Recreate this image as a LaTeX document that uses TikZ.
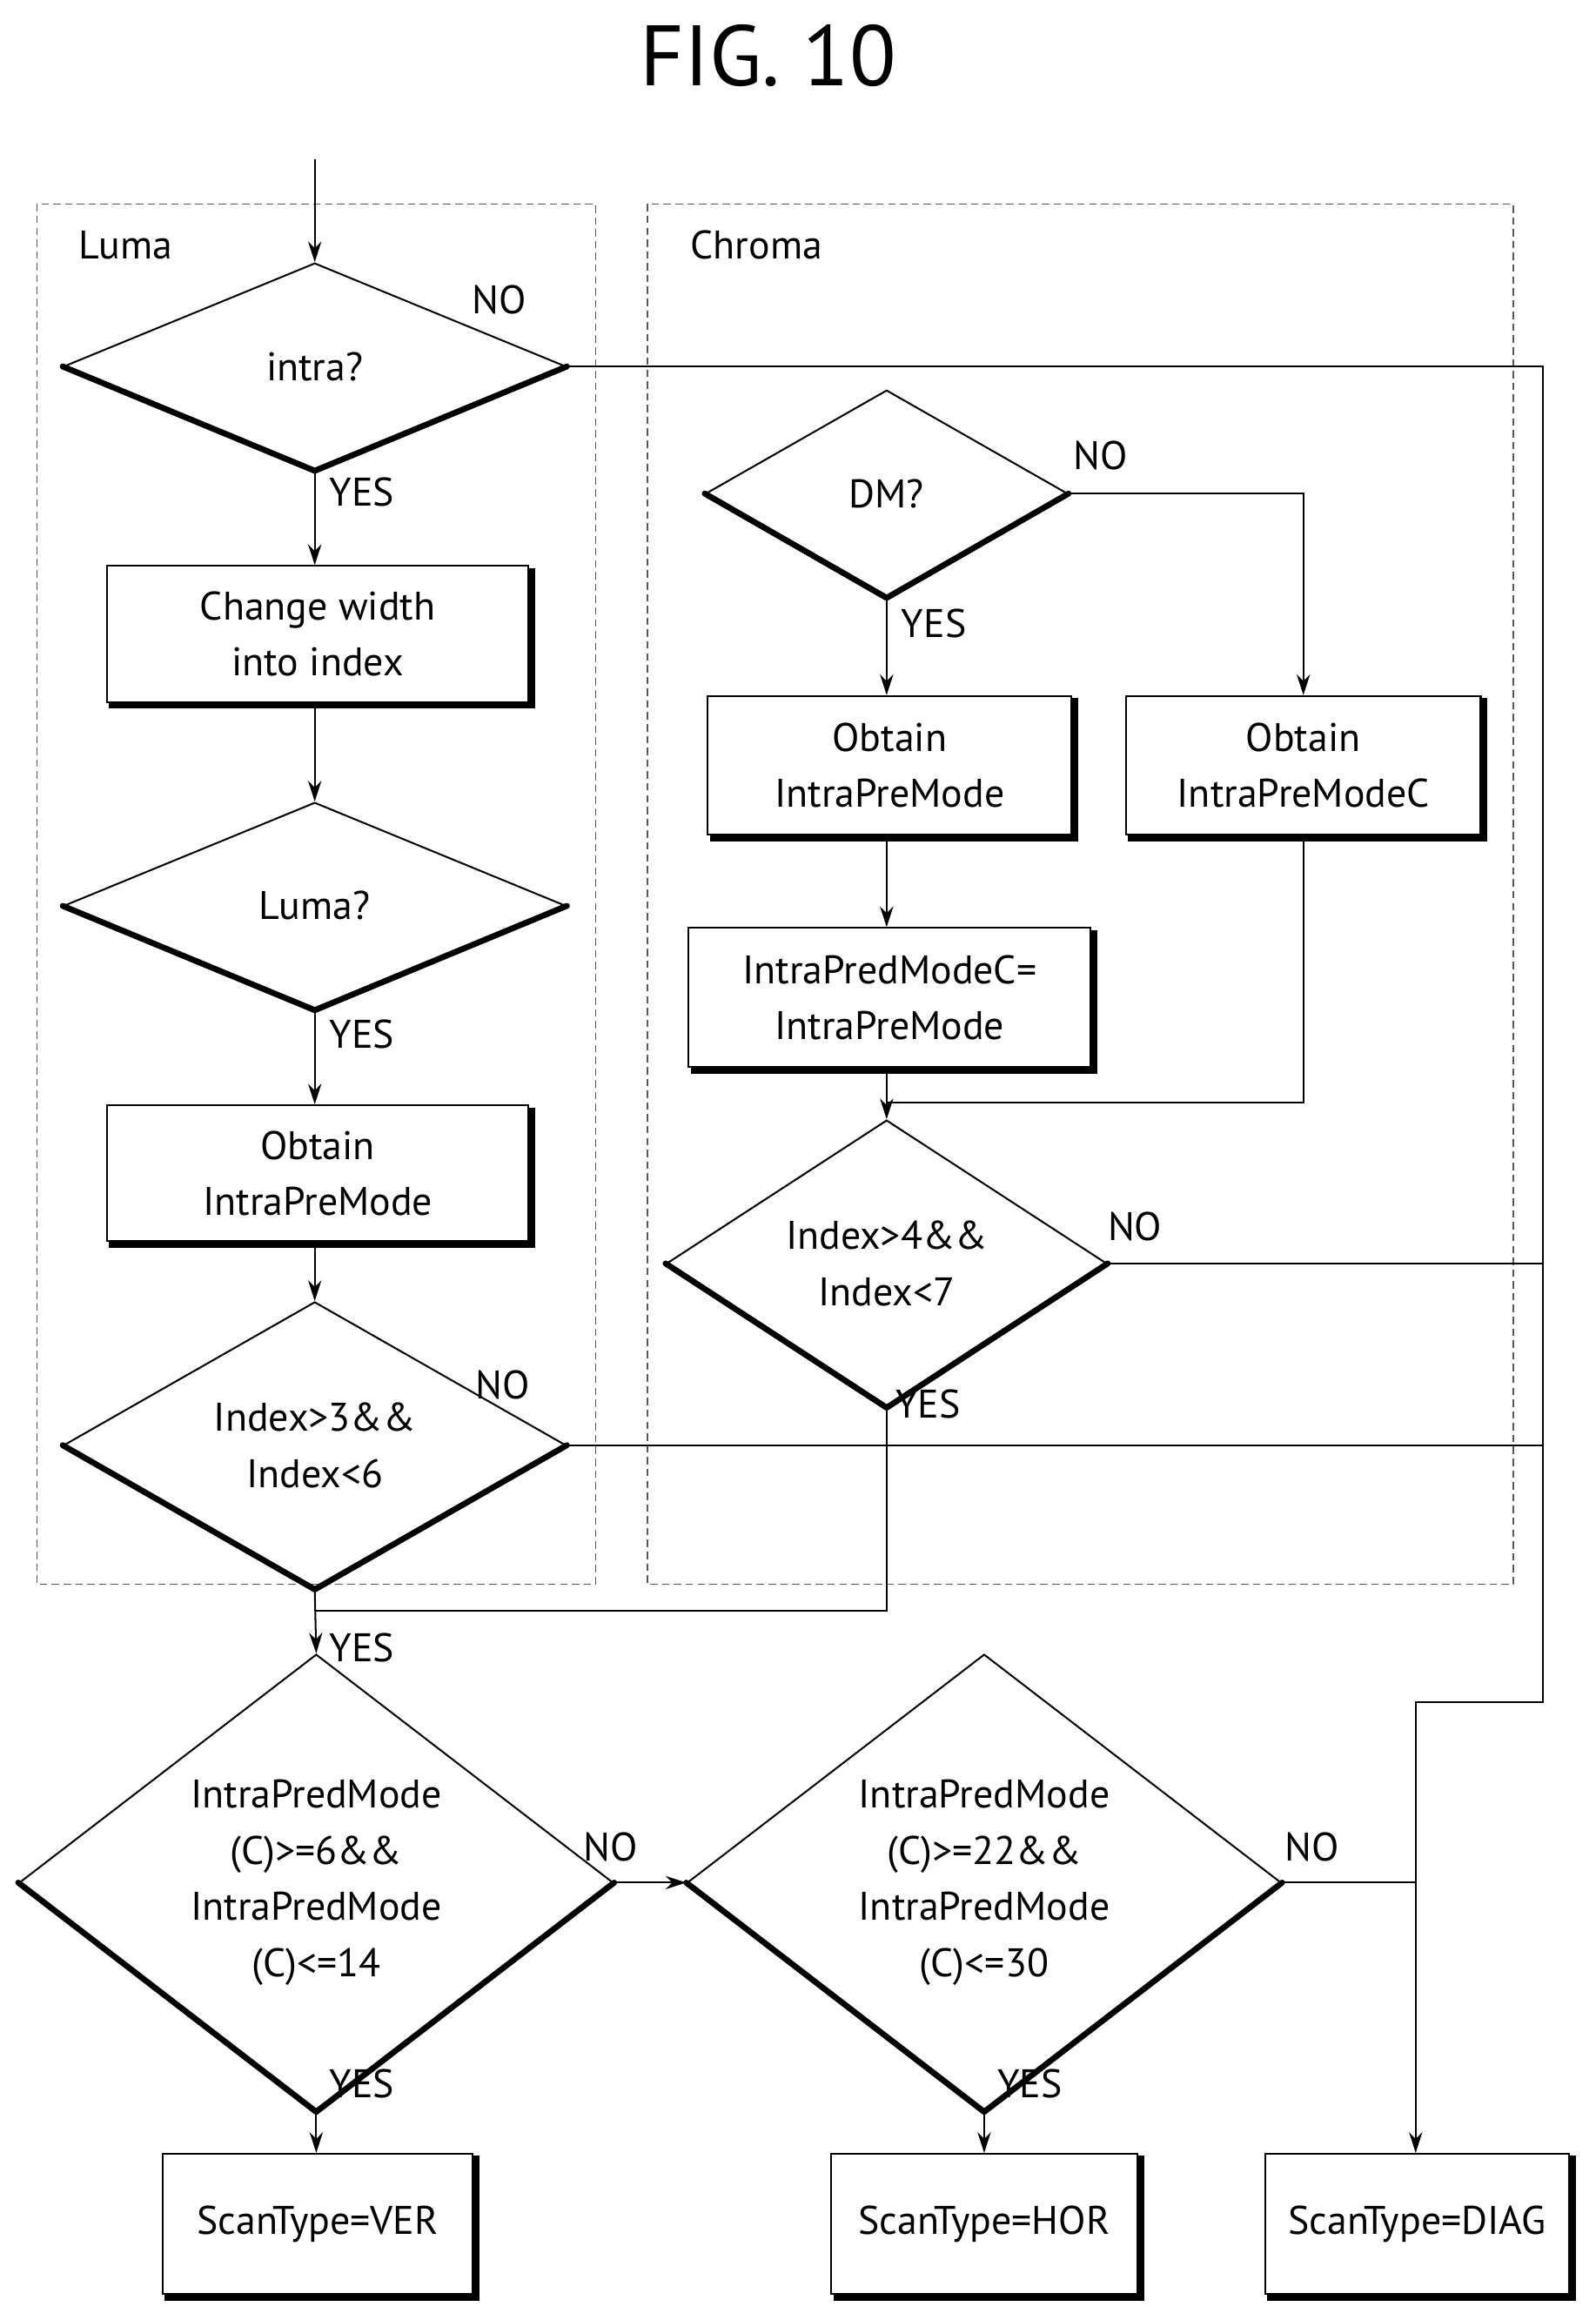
\documentclass[tikz,border=0pt]{standalone}
\usepackage{fontspec}
\setmainfont{PT Sans}
\usetikzlibrary{shapes.geometric,arrows.meta}
\begin{document}
\begin{tikzpicture}[x=1pt,y=-1pt,
  txt/.style={font=\fontsize{27}{38}\selectfont,align=center},
  lbl/.style={font=\fontsize{27}{32}\selectfont,inner sep=0pt},
  dia/.style={draw,line width=1.2pt,diamond,inner sep=0pt,txt},
  box/.style={draw,line width=1.2pt,rectangle,inner sep=0pt,txt},
  ln/.style={line width=1.2pt},
  arr/.style={ln,-{Stealth[length=14pt,width=9pt]}},
  dashbox/.style={line width=0.9pt,dash pattern=on 5pt off 3pt,gray!70!black}]
\useasboundingbox (0,0) rectangle (1080,1570);
\newcommand{\thickdia}[1]{\draw[line width=4pt,line cap=round,line join=round] (#1.west)--(#1.south)--(#1.east);}
\newcommand{\shadowbox}[1]{\draw[line width=4pt] ([xshift=2pt,yshift=-2pt]#1.north east)--([xshift=2pt,yshift=-2pt]#1.south east)--([xshift=2pt,yshift=-2pt]#1.south west);}
\node[font=\fontsize{58}{60}\selectfont] (title) at (520,38) {FIG. 10};
\draw[dashbox] (25,138) rectangle (403,1072);
\draw[dashbox] (438,138) rectangle (1024,1072);
\node[lbl] (lluma) at (85,166) {Luma};
\node[lbl] (lchroma) at (512,166) {Chroma};
\coordinate (start) at (213,108);
% luma
\node[dia,minimum width=340pt,minimum height=140pt] (intra) at (213,248) {intra?};
\node[box,minimum width=285pt,minimum height=92pt] (chg) at (215,429) {Change width\\into index};
\node[dia,minimum width=340pt,minimum height=140pt] (luma) at (213,613) {Luma?};
\node[box,minimum width=285pt,minimum height=92pt] (obl) at (215,794) {Obtain\\IntraPreMode};
\node[dia,minimum width=340pt,minimum height=140pt] (idx3) at (213,978) {Index>3\&\&\\Index<6};
% chroma
\node[dia,minimum width=245pt,minimum height=140pt] (dm) at (600,334) {DM?};
\node[box,minimum width=246pt,minimum height=94pt] (obc) at (602,518) {Obtain\\IntraPreMode};
\node[box,minimum width=240pt,minimum height=94pt] (obcc) at (882,518) {Obtain\\IntraPreModeC};
\node[box,minimum width=272pt,minimum height=94pt] (set) at (602,675) {IntraPredModeC=\\IntraPreMode};
\node[dia,minimum width=298pt,minimum height=140pt] (idx4) at (600,855) {Index>4\&\&\\Index<7};
% bottom
\node[dia,minimum width=402pt,minimum height=238pt] (c1) at (214,1274) {IntraPredMode\\(C)>=6\&\&\\IntraPredMode\\(C)<=14};
\node[dia,minimum width=402pt,minimum height=238pt] (c2) at (666,1274) {IntraPredMode\\(C)>=22\&\&\\IntraPredMode\\(C)<=30};
\node[box,minimum width=210pt,minimum height=95pt] (ver) at (215,1505) {ScanType=VER};
\node[box,minimum width=207pt,minimum height=95pt] (hor) at (666,1505) {ScanType=HOR};
\node[box,minimum width=206pt,minimum height=95pt] (diag) at (959,1505) {ScanType=DIAG};
\foreach \n in {intra,luma,idx3,dm,idx4,c1,c2}{\thickdia{\n}}
\foreach \n in {chg,obl,obc,obcc,set,ver,hor,diag}{\shadowbox{\n}}
% connectors
\draw[arr] (start) -- (intra.north);
\draw[arr] (intra.south) -- (chg.north -| intra.south);
\draw[arr] (chg.south -| luma.north) -- (luma.north);
\draw[arr] (luma.south) -- (obl.north -| luma.south);
\draw[arr] (obl.south -| idx3.north) -- (idx3.north);
\draw[arr] (idx3.south) -- (c1.north);
\draw[arr] (dm.east) -| (obcc.north);
\draw[arr] (dm.south) -- (obc.north -| dm.south);
\draw[arr] (obc.south -| dm.south) -- (set.north -| dm.south);
\draw[arr] (set.south -| idx4.north) -- (idx4.north);
\draw[ln] (obcc.south) |- (600,746);
\draw[ln] (idx4.south) -- (600,1090) -- (213,1090);
\coordinate (rj) at (1044,1152);
\draw[arr] (intra.east) -- (1044,248) -- (rj) -- (958,1152) -- (diag.north -| 958,0);
\draw[ln] (idx4.east) -- (1044,855);
\draw[ln] (idx3.east) -- (1044,978);
\draw[arr] (c1.east) -- (c2.west);
\draw[ln] (c2.east) -- (958,1274);
\draw[arr] (c1.south) -- (ver.north -| c1.south);
\draw[arr] (c2.south) -- (hor.north);
% labels
\node[lbl] (n1) at (338,203) {NO};
\node[lbl] (y1) at (245,333) {YES};
\node[lbl] (y2) at (245,700) {YES};
\node[lbl] (n2) at (340,937) {NO};
\node[lbl] (n3) at (745,308) {NO};
\node[lbl] (y3) at (632,422) {YES};
\node[lbl] (n4) at (768,830) {NO};
\node[lbl] (y4) at (628,950) {YES};
\node[lbl] (y5) at (245,1115) {YES};
\node[lbl] (n5) at (413,1250) {NO};
\node[lbl] (n6) at (888,1250) {NO};
\node[lbl] (y6) at (245,1410) {YES};
\node[lbl] (y7) at (697,1410) {YES};
\end{tikzpicture}
\end{document}
